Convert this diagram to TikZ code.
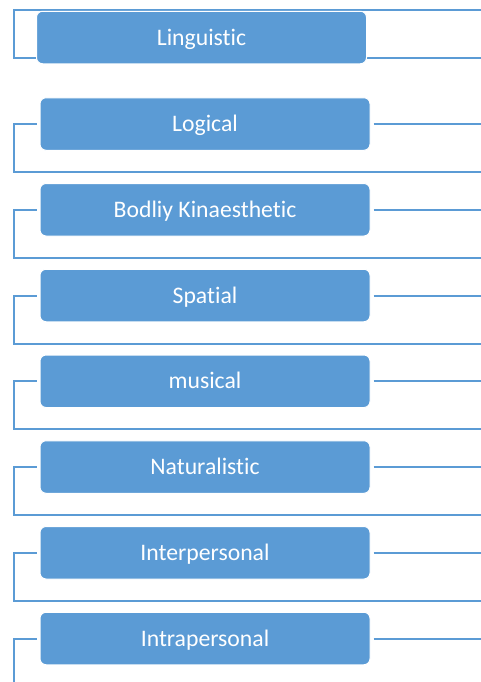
\documentclass[tikz,border=0pt]{standalone}
\usepackage{fontspec}
\setmainfont{Carlito}[Ligatures=NoCommon]
\usetikzlibrary{backgrounds}
\definecolor{boxblue}{HTML}{5B9BD5}

\begin{document}
\begin{tikzpicture}[
  x=0.5pt, y=-0.5pt,
  node distance=42.875pt,
  every node/.style={fill=boxblue, draw=white, line width=0.5pt, rounded corners=3pt, text=white, font=\fontsize{11.85}{14}\selectfont, minimum width=165pt, minimum height=26.25pt, inner sep=0pt, text height=7.6pt, text depth=0pt, align=center},
  link/.style={draw=boxblue, line width=1pt}
]
  \useasboundingbox (0,0) rectangle (481,682);

  \node (ling) at (201.5,37.5) {Linguistic};
  \node (logic) at (205,124) {Logical};
  \node (bodily) [below of=logic] {Bodliy Kinaesthetic};
  \node (spatial) [below of=bodily] {Spatial};
  \node (music) [below of=spatial] {musical};
  \node (nature) [below of=music] {Naturalistic};
  \node (inter) [below of=nature] {Interpersonal};
  \node (intra) [below of=inter] {Intrapersonal};

  \coordinate (lx) at (14,0);
  \coordinate (rx) at (481,0);
  \coordinate (lingtop) at (481,10);
  \coordinate (lingbot) at (481,58);

  \begin{scope}[on background layer]
    \draw [link] (lingtop) -- (lingtop -| lx) -- (lingbot -| lx) -- (lingbot);
    \foreach \b in {logic,bodily,spatial,music,nature,inter}{
      \draw [link, shorten <=1.5pt] (\b.west) -- (\b.west -| lx) -- ++(0,48) -- ++(467,0);
      \draw [link, shorten <=1.5pt] (\b.east) -- (\b.east -| rx);
    }
    \draw [link, shorten <=1.5pt] (intra.west) -- (intra.west -| lx) -- ++(0,44);
    \draw [link, shorten <=1.5pt] (intra.east) -- (intra.east -| rx);
  \end{scope}
\end{tikzpicture}
\end{document}
